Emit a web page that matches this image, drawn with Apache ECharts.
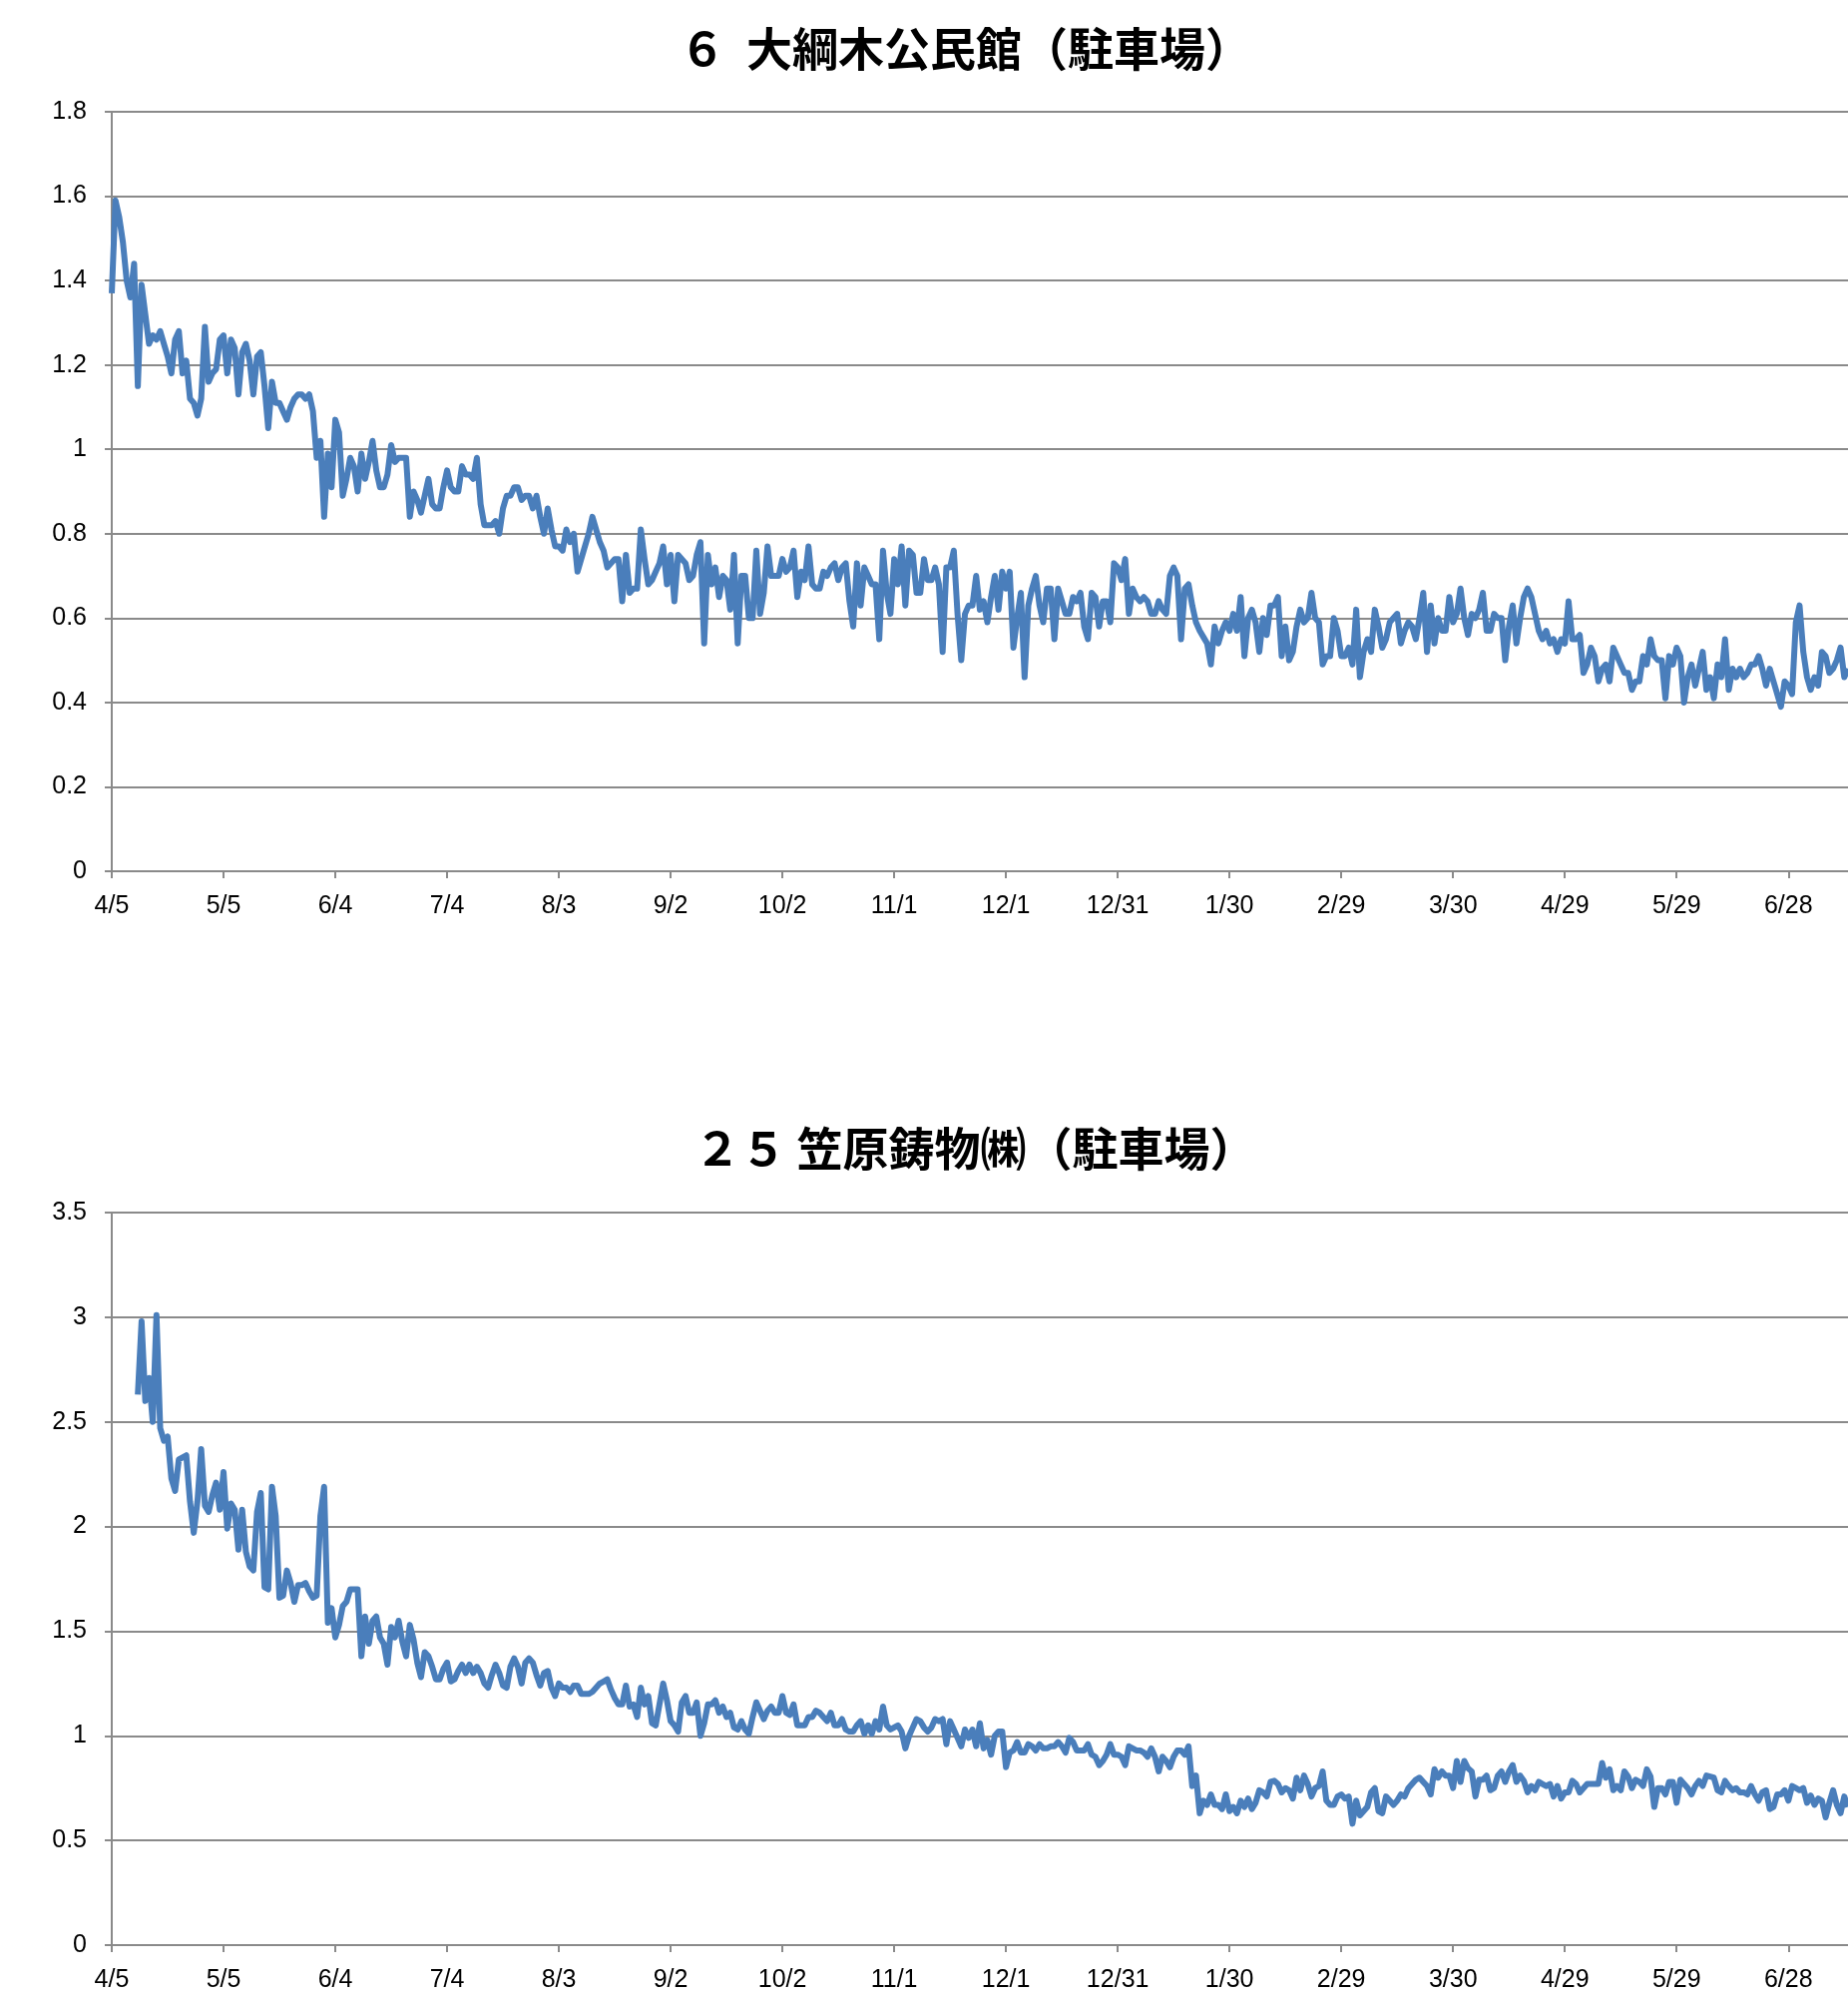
<!DOCTYPE html>
<html>
<head>
<meta charset="utf-8">
<title>駐車場 線量推移</title>
<script src="https://cdn.jsdelivr.net/npm/echarts@6/dist/echarts.min.js"></script>
<style>
  html, body { margin: 0; padding: 0; background: #fff; }
  #chart { width: 1852px; height: 2002px; }
</style>
</head>
<body>
<div id="chart"></div>
<script>
// daily values, first day 2015/4/5
var startDate = Date.UTC(2015, 3, 5)
var dayCount = 467
var tickStep = 30

var titleTop = '６  大綱木公民館（駐車場）'
var titleBottom = '２５ 笠原鋳物㈱（駐車場）'

var topYTicks = [0, 0.2, 0.4, 0.6, 0.8, 1, 1.2, 1.4, 1.6, 1.8]
var bottomYTicks = [0, 0.5, 1, 1.5, 2, 2.5, 3, 3.5]

var ohtsunagiValues = [
  1.37, 1.59, 1.55, 1.49, 1.40, 1.36, 1.44, 1.15, 1.39, 1.32,
  1.25, 1.27, 1.26, 1.28, 1.25, 1.22, 1.18, 1.26, 1.28, 1.18,
  1.21, 1.12, 1.11, 1.08, 1.12, 1.29, 1.16, 1.18, 1.19, 1.26,
  1.27, 1.18, 1.26, 1.24, 1.13, 1.23, 1.25, 1.21, 1.13, 1.22,
  1.23, 1.15, 1.05, 1.16, 1.11, 1.11, 1.09, 1.07, 1.10, 1.12,
  1.13, 1.13, 1.12, 1.13, 1.09, 0.98, 1.02, 0.84, 0.99, 0.91,
  1.07, 1.04, 0.89, 0.93, 0.98, 0.96, 0.90, 0.99, 0.93, 0.97,
  1.02, 0.95, 0.91, 0.91, 0.94, 1.01, 0.97, 0.98, 0.98, 0.98,
  0.84, 0.90, 0.88, 0.85, 0.89, 0.93, 0.87, 0.86, 0.86, 0.91,
  0.95, 0.91, 0.90, 0.90, 0.96, 0.94, 0.94, 0.93, 0.98, 0.87,
  0.82, 0.82, 0.82, 0.83, 0.80, 0.86, 0.89, 0.89, 0.91, 0.91,
  0.88, 0.89, 0.89, 0.86, 0.89, 0.84, 0.80, 0.86, 0.81, 0.77,
  0.77, 0.76, 0.81, 0.78, 0.80, 0.71, 0.74, 0.77, 0.80, 0.84,
  0.81, 0.78, 0.76, 0.72, 0.73, 0.74, 0.74, 0.64, 0.75, 0.66,
  0.67, 0.67, 0.81, 0.74, 0.68, 0.69, 0.71, 0.73, 0.77, 0.68,
  0.75, 0.64, 0.75, 0.74, 0.73, 0.69, 0.70, 0.75, 0.78, 0.54,
  0.75, 0.68, 0.72, 0.65, 0.70, 0.69, 0.62, 0.75, 0.54, 0.70,
  0.70, 0.60, 0.60, 0.76, 0.61, 0.66, 0.77, 0.70, 0.70, 0.70,
  0.74, 0.71, 0.72, 0.76, 0.65, 0.71, 0.69, 0.77, 0.68, 0.67,
  0.67, 0.71, 0.70, 0.72, 0.73, 0.69, 0.72, 0.73, 0.64, 0.58,
  0.73, 0.63, 0.72, 0.70, 0.68, 0.68, 0.55, 0.76, 0.66, 0.61,
  0.74, 0.68, 0.77, 0.63, 0.76, 0.75, 0.66, 0.66, 0.74, 0.69,
  0.69, 0.72, 0.68, 0.52, 0.72, 0.72, 0.76, 0.61, 0.50, 0.61,
  0.63, 0.63, 0.70, 0.62, 0.64, 0.59, 0.65, 0.70, 0.62, 0.71,
  0.67, 0.71, 0.53, 0.60, 0.66, 0.46, 0.63, 0.67, 0.70, 0.63,
  0.59, 0.67, 0.67, 0.55, 0.67, 0.64, 0.61, 0.61, 0.65, 0.64,
  0.66, 0.58, 0.55, 0.66, 0.65, 0.58, 0.64, 0.64, 0.59, 0.73,
  0.72, 0.69, 0.74, 0.61, 0.67, 0.65, 0.64, 0.65, 0.64, 0.61,
  0.61, 0.64, 0.62, 0.61, 0.70, 0.72, 0.70, 0.55, 0.67, 0.68,
  0.63, 0.59, 0.57, 0.555, 0.54, 0.49, 0.58, 0.54, 0.57, 0.59,
  0.57, 0.61, 0.57, 0.65, 0.51, 0.60, 0.62, 0.59, 0.52, 0.60,
  0.56, 0.63, 0.63, 0.65, 0.51, 0.58, 0.50, 0.52, 0.58, 0.62,
  0.59, 0.60, 0.66, 0.60, 0.59, 0.49, 0.51, 0.51, 0.60, 0.57,
  0.51, 0.51, 0.53, 0.49, 0.62, 0.46, 0.52, 0.55, 0.52, 0.62,
  0.58, 0.53, 0.55, 0.59, 0.60, 0.61, 0.54, 0.57, 0.59, 0.58,
  0.55, 0.60, 0.66, 0.52, 0.63, 0.54, 0.60, 0.57, 0.57, 0.65,
  0.59, 0.61, 0.67, 0.60, 0.56, 0.61, 0.60, 0.62, 0.66, 0.57,
  0.57, 0.61, 0.60, 0.60, 0.50, 0.58, 0.63, 0.54, 0.60, 0.65,
  0.67, 0.65, 0.61, 0.57, 0.55, 0.57, 0.54, 0.55, 0.52, 0.55,
  0.54, 0.64, 0.55, 0.55, 0.56, 0.47, 0.49, 0.53, 0.51, 0.45,
  0.48, 0.49, 0.45, 0.53, 0.51, 0.49, 0.47, 0.47, 0.43, 0.45,
  0.45, 0.51, 0.49, 0.55, 0.51, 0.50, 0.50, 0.41, 0.51, 0.49,
  0.53, 0.51, 0.40, 0.46, 0.49, 0.44, 0.48, 0.52, 0.43, 0.46,
  0.41, 0.49, 0.46, 0.55, 0.43, 0.48, 0.46, 0.48, 0.46, 0.47,
  0.49, 0.49, 0.51, 0.48, 0.44, 0.48, 0.45, 0.42, 0.39, 0.45,
  0.44, 0.42, 0.59, 0.63, 0.52, 0.46, 0.43, 0.46, 0.44, 0.52,
  0.51, 0.47, 0.48, 0.50, 0.53, 0.46, 0.48
]

var kasaharaValues = [
  null, null, null, null, null, null, null, 2.63, 2.98, 2.60,
  2.71, 2.50, 3.01, 2.47, 2.41, 2.43, 2.23, 2.17, 2.32, 2.33,
  2.34, 2.12, 1.97, 2.12, 2.37, 2.10, 2.07, 2.15, 2.21, 2.08,
  2.26, 1.99, 2.11, 2.08, 1.89, 2.08, 1.88, 1.81, 1.79, 2.07,
  2.16, 1.71, 1.70, 2.19, 2.05, 1.66, 1.67, 1.79, 1.73, 1.64,
  1.72, 1.72, 1.73, 1.69, 1.66, 1.67, 2.05, 2.19, 1.54, 1.61,
  1.47, 1.53, 1.62, 1.64, 1.70, 1.70, 1.70, 1.38, 1.57, 1.44,
  1.55, 1.57, 1.47, 1.44, 1.34, 1.52, 1.47, 1.55, 1.45, 1.38,
  1.53, 1.46, 1.35, 1.28, 1.40, 1.38, 1.33, 1.27, 1.27, 1.32,
  1.35, 1.26, 1.27, 1.31, 1.34, 1.30, 1.34, 1.30, 1.33, 1.30,
  1.25, 1.23, 1.29, 1.34, 1.30, 1.24, 1.23, 1.33, 1.37, 1.33,
  1.25, 1.35, 1.37, 1.35, 1.29, 1.24, 1.30, 1.31, 1.23, 1.19,
  1.25, 1.23, 1.23, 1.21, 1.24, 1.24, 1.20, 1.20, 1.20, 1.21,
  1.23, 1.25, 1.26, 1.27, 1.22, 1.18, 1.15, 1.15, 1.24, 1.14,
  1.15, 1.09, 1.23, 1.15, 1.19, 1.06, 1.05, 1.15, 1.25, 1.17,
  1.07, 1.05, 1.02, 1.16, 1.19, 1.11, 1.11, 1.16, 1.00, 1.06,
  1.15, 1.15, 1.17, 1.11, 1.14, 1.09, 1.11, 1.04, 1.03, 1.07,
  1.03, 1.01, 1.09, 1.16, 1.12, 1.08, 1.12, 1.14, 1.11, 1.11,
  1.19, 1.11, 1.10, 1.15, 1.05, 1.05, 1.05, 1.09, 1.09, 1.12,
  1.11, 1.09, 1.07, 1.11, 1.05, 1.05, 1.08, 1.03, 1.02, 1.02,
  1.05, 1.07, 1.01, 1.05, 1.01, 1.07, 1.03, 1.14, 1.05, 1.03,
  1.04, 1.05, 1.02, 0.94, 1.00, 1.04, 1.08, 1.07, 1.04, 1.02,
  1.04, 1.08, 1.07, 1.08, 0.96, 1.07, 1.03, 0.99, 0.95, 1.03,
  0.99, 1.03, 0.95, 1.06, 0.94, 0.98, 0.91, 1.00, 1.02, 1.02,
  0.85, 0.92, 0.93, 0.97, 0.92, 0.92, 0.96, 0.95, 0.93, 0.96,
  0.94, 0.94, 0.95, 0.95, 0.97, 0.95, 0.92, 0.99, 0.97, 0.93,
  0.93, 0.93, 0.96, 0.91, 0.90, 0.86, 0.88, 0.91, 0.96, 0.91,
  0.91, 0.90, 0.86, 0.95, 0.94, 0.93, 0.93, 0.92, 0.90, 0.94,
  0.90, 0.83, 0.90, 0.88, 0.85, 0.90, 0.93, 0.93, 0.91, 0.95,
  0.76, 0.81, 0.63, 0.69, 0.67, 0.72, 0.67, 0.67, 0.65, 0.72,
  0.64, 0.66, 0.63, 0.69, 0.66, 0.70, 0.65, 0.68, 0.74, 0.73,
  0.71, 0.78, 0.785, 0.77, 0.73, 0.75, 0.74, 0.70, 0.80, 0.74,
  0.81, 0.77, 0.71, 0.75, 0.76, 0.83, 0.69, 0.67, 0.67, 0.71,
  0.72, 0.70, 0.71, 0.58, 0.69, 0.62, 0.64, 0.66, 0.73, 0.75,
  0.64, 0.63, 0.71, 0.69, 0.67, 0.69, 0.72, 0.71, 0.75, 0.77,
  0.79, 0.80, 0.78, 0.76, 0.72, 0.84, 0.80, 0.83, 0.81, 0.81,
  0.75, 0.88, 0.78, 0.88, 0.845, 0.83, 0.71, 0.79, 0.79, 0.81,
  0.74, 0.75, 0.81, 0.83, 0.78, 0.83, 0.86, 0.78, 0.81, 0.785,
  0.73, 0.76, 0.74, 0.78, 0.77, 0.76, 0.77, 0.71, 0.76, 0.70,
  0.73, 0.73, 0.785, 0.77, 0.73, 0.75, 0.77, 0.77, 0.77, 0.77,
  0.87, 0.80, 0.84, 0.74, 0.76, 0.74, 0.83, 0.805, 0.75, 0.79,
  0.78, 0.76, 0.84, 0.805, 0.66, 0.75, 0.75, 0.72, 0.78, 0.78,
  0.68, 0.79, 0.77, 0.75, 0.72, 0.76, 0.785, 0.76, 0.81, 0.805,
  0.80, 0.74, 0.73, 0.785, 0.76, 0.74, 0.75, 0.73, 0.73, 0.72,
  0.76, 0.72, 0.69, 0.73, 0.74, 0.65, 0.66, 0.72, 0.72, 0.74,
  0.69, 0.76, 0.75, 0.74, 0.75, 0.68, 0.715, 0.67, 0.70, 0.69,
  0.61, 0.68, 0.74, 0.67, 0.63, 0.71, 0.66
]

var dates = []
for (var i = 0; i < dayCount; i++) {
  var d = new Date(startDate + i * 86400000)
  dates.push((d.getUTCMonth() + 1) + '/' + d.getUTCDate())
}

var lineColor = '#4A7EBB'
var gridColor = '#8a8a8a'
var labelFont = 'Liberation Sans'
var titleStyle = { fontFamily: 'Noto Sans CJK JP', fontWeight: 'bold', fontSize: 46, color: '#000' }

function xAxisFor(gridIndex) {
  return {
    type: 'category',
    gridIndex: gridIndex,
    data: dates,
    boundaryGap: false,
    axisLine: { lineStyle: { color: gridColor, width: 2 } },
    axisTick: { show: true, interval: tickStep - 1, length: 7, lineStyle: { color: gridColor, width: 2 } },
    axisLabel: {
      interval: tickStep - 1,
      margin: 23,
      color: '#000',
      fontSize: 25,
      fontFamily: labelFont
    },
    splitLine: { show: false }
  }
}

function yAxisFor(gridIndex, ticks) {
  return {
    type: 'value',
    gridIndex: gridIndex,
    min: ticks[0],
    max: ticks[ticks.length - 1],
    interval: ticks[1] - ticks[0],
    axisLine: { show: true, lineStyle: { color: gridColor, width: 2 } },
    axisTick: { show: true, length: 7, lineStyle: { color: gridColor, width: 2 } },
    axisLabel: {
      margin: 25,
      color: '#000',
      fontSize: 25,
      fontFamily: labelFont
    },
    splitLine: { lineStyle: { color: gridColor, width: 2 } }
  }
}

var chart = echarts.init(document.getElementById('chart'))
var option = {
  animation: false,
  backgroundColor: '#fff',
  title: [{
    text: titleTop,
    left: 676,
    top: 21,
    textStyle: titleStyle
  }, {
    text: titleBottom,
    left: 691,
    top: 1123,
    textStyle: titleStyle
  }],
  grid: [
    { left: 112, top: 112, right: 0, height: 761 },
    { left: 112, top: 1215, right: 0, height: 734 }
  ],
  xAxis: [xAxisFor(0), xAxisFor(1)],
  yAxis: [yAxisFor(0, topYTicks), yAxisFor(1, bottomYTicks)],
  series: [{
    type: 'line',
    xAxisIndex: 0,
    yAxisIndex: 0,
    data: ohtsunagiValues,
    showSymbol: false,
    symbol: 'none',
    lineStyle: { color: lineColor, width: 6, join: 'round' }
  }, {
    type: 'line',
    xAxisIndex: 1,
    yAxisIndex: 1,
    data: kasaharaValues,
    showSymbol: false,
    symbol: 'none',
    connectNulls: false,
    lineStyle: { color: lineColor, width: 6, join: 'round' }
  }]
}
chart.setOption(option)
</script>
</body>
</html>
